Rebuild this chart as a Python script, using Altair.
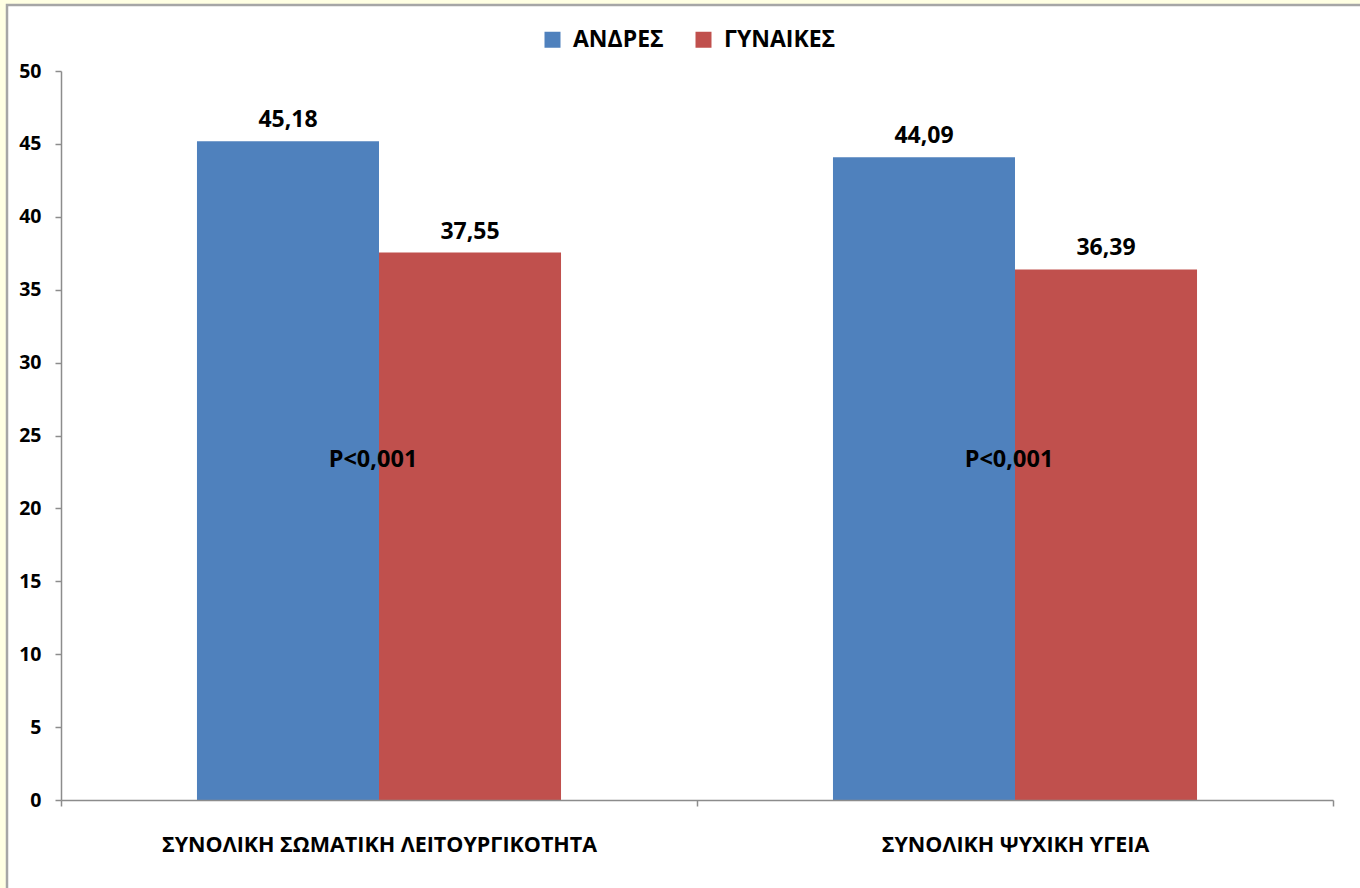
import altair as alt
import pandas as pd

categories = ["ΣΥΝΟΛΙΚΗ ΣΩΜΑΤΙΚΗ ΛΕΙΤΟΥΡΓΙΚΟΤΗΤΑ", "ΣΥΝΟΛΙΚΗ ΨΥΧΙΚΗ ΥΓΕΙΑ"]
series = ["ΑΝΔΡΕΣ", "ΓΥΝΑΙΚΕΣ"]
men = [45.18, 44.09]
women = [37.55, 36.39]
p_labels = ["P<0,001", "P<0,001"]
colors = ["#4F81BD", "#C0504D"]

rows = []
for i, c in enumerate(categories):
    for s, vals in zip(series, [men, women]):
        v = vals[i]
        rows.append({"cat": c, "sex": s, "value": v, "label": f"{v:.2f}".replace(".", ",")})
df = pd.DataFrame(rows)
pdf = pd.DataFrame({"cat": categories, "p": p_labels})

FONT = "Open Sans"
W, H = 1272, 729
AXC = "#8C8C8C"

xenc = alt.X("cat:N", sort=categories, title=None,
             scale=alt.Scale(paddingInner=0, paddingOuter=0),
             axis=alt.Axis(labelAngle=0, labelFont=FONT, labelFontSize=21.5, labelFontWeight="bold",
                           labelColor="black", labelPadding=28, tickBand="extent", tickSize=6,
                           tickColor=AXC, domainColor=AXC, domainWidth=1.5, tickWidth=1.5,
                           labelLimit=800, zindex=1))
yscale = alt.Scale(domain=[0, 50], nice=False)
offscale = alt.Scale(paddingInner=0, paddingOuter=0.747)

frame = alt.Chart(pd.DataFrame({"a": [0]})).mark_rect(
    fill="white", stroke="#A6A6A6", strokeWidth=2.5
).encode(x=alt.value(-54), x2=alt.value(1320), y=alt.value(-66), y2=alt.value(840))

bars = alt.Chart(df).mark_bar().encode(
    x=xenc,
    xOffset=alt.XOffset("sex:N", sort=series, scale=offscale),
    y=alt.Y("value:Q", scale=yscale, title=None,
            axis=alt.Axis(values=list(range(0, 51, 5)), grid=False, labelFont=FONT, labelFontSize=19.5,
                          labelFontWeight="bold", labelColor="black", tickColor=AXC,
                          domainColor=AXC, domainWidth=1.5, tickWidth=1.5, tickSize=6,
                          labelPadding=14, zindex=1)),
    color=alt.Color("sex:N", sort=series, scale=alt.Scale(domain=series, range=colors),
                    legend=alt.Legend(title=None, orient="none", legendX=480, legendY=-43,
                                      direction="horizontal", symbolType="square", symbolSize=256,
                                      symbolStrokeWidth=0, labelFont=FONT, labelFontSize=23,
                                      labelFontWeight="bold", labelColor="black", labelOffset=9,
                                      columnPadding=28, padding=0)),
)

texts = alt.Chart(df).mark_text(font=FONT, fontSize=23, fontWeight="bold", color="black",
                                baseline="bottom", dy=-9).encode(
    x=alt.X("cat:N", sort=categories),
    xOffset=alt.XOffset("sex:N", sort=series, scale=offscale),
    y=alt.Y("value:Q", scale=yscale),
    text="label:N",
)

ptext = alt.Chart(pdf).mark_text(font=FONT, fontSize=23.5, fontWeight="bold", color="black",
                                 baseline="middle", dx=-6).encode(
    x=alt.X("cat:N", sort=categories),
    y=alt.datum(23.3),
    text="p:N",
)

chart = alt.layer(frame, bars, texts, ptext).properties(
    width=W, height=H, background="#FFFFE3",
    padding={"left": 61, "top": 71, "right": 27, "bottom": 88},
    autosize=alt.AutoSizeParams(type="none"),
).configure_view(stroke=None)

chart.save("out.html", embed_options={"renderer": "svg", "actions": False})
